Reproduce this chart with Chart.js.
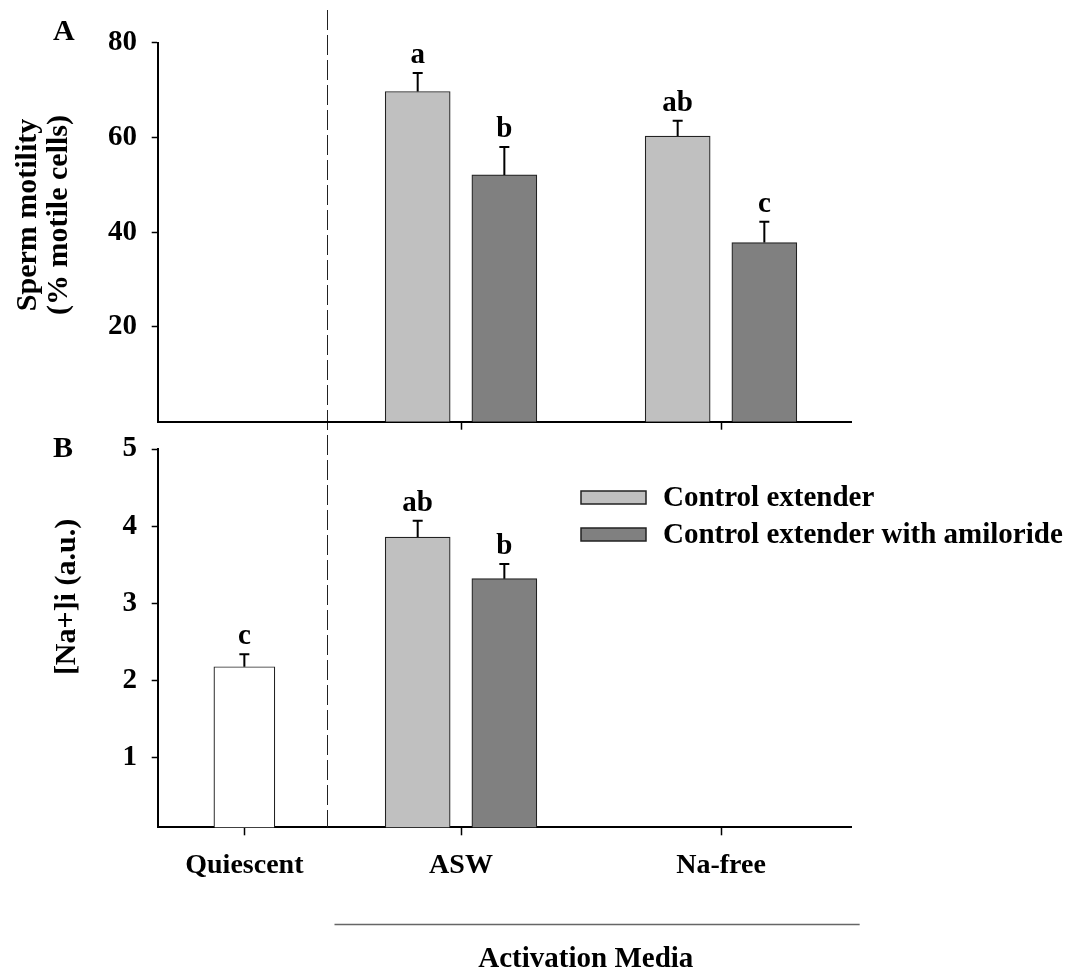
<!DOCTYPE html>
<html>
<head>
<meta charset="utf-8">
<script src="https://cdn.jsdelivr.net/npm/chart.js@4.4.0/dist/chart.umd.min.js"></script>
<style>
body { margin: 0; background: #fff; }
#wrap { position: relative; width: 1088px; height: 974px; }
#wrap canvas { position: absolute; left: 0; top: 0; }
</style>
</head>
<body>
<div id="wrap">
  <canvas id="panelB" width="1088" height="974"></canvas>
  <canvas id="panelA" width="1088" height="974"></canvas>
</div>
<script>
var categories = ['Quiescent', 'ASW', 'Na-free'];
var catPos = [0.5, 1.75, 3.25];
var seriesNames = ['Control extender', 'Control extender with amiloride'];

// panel A: sperm motility (% motile cells)
var motilityControl = [null, 69.7, 60.3];
var motilityControlErr = [null, 3.9, 3.2];
var motilityControlLetters = [null, 'a', 'ab'];
var motilityAmil = [null, 52.1, 37.8];
var motilityAmilErr = [null, 5.9, 4.4];
var motilityAmilLetters = [null, 'b', 'c'];
var motilityTicks = [20, 40, 60, 80];

// panel B: [Na+]i (a.u.)
var naQuiescent = [2.18, null, null];
var naQuiescentErr = [0.16, null, null];
var naQuiescentLetters = ['c', null, null];
var naControl = [null, 3.86, null];
var naControlErr = [null, 0.21, null];
var naControlLetters = [null, 'ab', null];
var naAmil = [null, 3.32, null];
var naAmilErr = [null, 0.19, null];
var naAmilLetters = [null, 'b', null];
var naTicks = [1, 2, 3, 4, 5];

var lightGrey = '#c0c0c0';
var darkGrey = '#808080';
var serif = "'Liberation Serif', 'Times New Roman', serif";

Chart.defaults.font.family = serif;
Chart.defaults.font.weight = 'bold';
Chart.defaults.font.size = 29;
Chart.defaults.color = '#000';

// bars sit left/right of the category position
function points(values, errs, letters, shift) {
    var out = [];
    for (var i = 0; i < values.length; i++) {
        if (values[i] === null) continue;
        out.push({ x: catPos[i] + shift, y: values[i], err: errs[i], letter: letters[i] });
    }
    return out;
}

var errorBars = {
    id: 'errorBars',
    afterDatasetsDraw: function(chart) {
        var ctx = chart.ctx;
        var ys = chart.scales.y;
        chart.data.datasets.forEach(function(ds, i) {
            var meta = chart.getDatasetMeta(i);
            meta.data.forEach(function(bar, j) {
                var pt = ds.data[j];
                var top = ys.getPixelForValue(pt.y + pt.err);
                ctx.save();
                ctx.strokeStyle = '#000';
                ctx.lineWidth = 2;
                ctx.beginPath();
                ctx.moveTo(bar.x, bar.y);
                ctx.lineTo(bar.x, top);
                ctx.moveTo(bar.x - 5, top);
                ctx.lineTo(bar.x + 5, top);
                ctx.stroke();
                ctx.fillStyle = '#000';
                ctx.font = 'bold 29px ' + serif;
                ctx.textAlign = 'center';
                ctx.fillText(pt.letter, bar.x, top - 10);
                ctx.restore();
            });
        });
    }
};

function yTitle(ctx, lines, xs, yc) {
    ctx.save();
    ctx.fillStyle = '#000';
    ctx.font = 'bold 30px ' + serif;
    ctx.textAlign = 'center';
    ctx.textBaseline = 'middle';
    lines.forEach(function(t, k) {
        ctx.save();
        ctx.translate(xs[k], yc);
        ctx.rotate(-Math.PI / 2);
        ctx.fillText(t, 0, 0);
        ctx.restore();
    });
    ctx.restore();
}

function panelLetter(ctx, txt, x, y) {
    ctx.save();
    ctx.fillStyle = '#000';
    ctx.font = 'bold 30px ' + serif;
    ctx.fillText(txt, x, y);
    ctx.restore();
}

var decorA = {
    id: 'decorA',
    afterDraw: function(chart) {
        var ctx = chart.ctx;
        yTitle(ctx, ['Sperm motility', '(% motile cells)'], [28, 59], 215);
        panelLetter(ctx, 'A', 53, 40);
    }
};

var decorB = {
    id: 'decorB',
    afterDraw: function(chart) {
        var ctx = chart.ctx;
        var xs = chart.scales.x;
        var area = chart.chartArea;
        yTitle(ctx, ['[Na+]i (a.u.)'], [67], 597);
        panelLetter(ctx, 'B', 53, 457);

        // divider between quiescent and activated groups
        ctx.save();
        ctx.strokeStyle = '#222';
        ctx.lineWidth = 1;
        ctx.setLineDash([20, 5]);
        var dx = Math.round(xs.getPixelForValue(0.975)) + 0.5;
        ctx.beginPath();
        ctx.moveTo(dx, 10);
        ctx.lineTo(dx, area.bottom);
        ctx.stroke();
        ctx.restore();

        // Activation Media bracket
        ctx.save();
        ctx.strokeStyle = '#666';
        ctx.lineWidth = 1.5;
        ctx.beginPath();
        ctx.moveTo(xs.getPixelForValue(1.02), 924.5);
        ctx.lineTo(xs.getPixelForValue(4.05), 924.5);
        ctx.stroke();
        ctx.fillStyle = '#000';
        ctx.font = 'bold 29px ' + serif;
        ctx.textAlign = 'center';
        ctx.fillText('Activation Media', xs.getPixelForValue(2.47), 967);
        ctx.restore();

        // legend
        ctx.save();
        ctx.font = 'bold 29px ' + serif;
        ctx.textBaseline = 'middle';
        [1, 2].forEach(function(i, k) {
            var ds = chart.data.datasets[i];
            var top = 491 + k * 37;
            ctx.fillStyle = ds.backgroundColor;
            ctx.fillRect(581, top, 65, 13);
            ctx.strokeStyle = '#222';
            ctx.lineWidth = 1.5;
            ctx.strokeRect(581, top, 65, 13);
            ctx.fillStyle = '#000';
            ctx.fillText(ds.label, 663, top + 8);
        });
        ctx.restore();
    }
};

function xScale(labels, height) {
    return {
        type: 'linear', min: 0, max: 4, offset: false,
        afterBuildTicks: function(s) {
            s.ticks = labels.map(function(l) { return { value: catPos[categories.indexOf(l)] }; });
        },
        afterFit: function(s) { s.height = height; },
        ticks: {
            autoSkip: false, maxRotation: 0, padding: 14,
            font: { size: 28, weight: 'bold' },
            callback: function(v, i) { return height > 30 ? labels[i] : ''; }
        },
        grid: { drawOnChartArea: false, offset: false, tickLength: 8, tickColor: '#000', tickWidth: 1.5 },
        border: { color: '#000', width: 2 }
    };
}

function yScale(min, max, tickVals) {
    return {
        min: min, max: max,
        afterBuildTicks: function(s) {
            s.ticks = tickVals.map(function(v) { return { value: v }; });
        },
        afterFit: function(s) { s.width = 157.7; },
        ticks: { padding: 14.7, font: { size: 29, weight: 'bold' } },
        grid: { drawOnChartArea: false, tickLength: 6, tickColor: '#000', tickWidth: 1.5 },
        border: { color: '#000', width: 2 }
    };
}

var barStyle = { borderColor: '#222', borderWidth: 1.2, borderSkipped: 'bottom', grouped: false };

window.onload = function() {
    var ctxA = document.getElementById('panelA').getContext('2d');
    window.chartA = new Chart(ctxA, {
        type: 'bar',
        data: {
            datasets: [
                Object.assign({ label: seriesNames[0], backgroundColor: lightGrey, barThickness: 65,
                    data: points(motilityControl, motilityControlErr, motilityControlLetters, -0.25) }, barStyle),
                Object.assign({ label: seriesNames[1], backgroundColor: darkGrey, barThickness: 65,
                    data: points(motilityAmil, motilityAmilErr, motilityAmilLetters, 0.25) }, barStyle)
            ]
        },
        options: {
            responsive: false,
            animation: false,
            layout: { padding: { top: 42.7, right: 237, bottom: 974 - 421.7 - 20, left: 0 } },
            plugins: { legend: { display: false }, tooltip: { enabled: false } },
            scales: {
                x: xScale(['ASW', 'Na-free'], 20),
                y: yScale(0, 80, motilityTicks)
            }
        },
        plugins: [errorBars, decorA]
    });

    var ctxB = document.getElementById('panelB').getContext('2d');
    window.chartB = new Chart(ctxB, {
        type: 'bar',
        data: {
            datasets: [
                Object.assign({ label: 'Quiescent', backgroundColor: '#ffffff', barThickness: 61,
                    data: points(naQuiescent, naQuiescentErr, naQuiescentLetters, 0) }, barStyle),
                Object.assign({ label: seriesNames[0], backgroundColor: lightGrey, barThickness: 65,
                    data: points(naControl, naControlErr, naControlLetters, -0.25) }, barStyle),
                Object.assign({ label: seriesNames[1], backgroundColor: darkGrey, barThickness: 65,
                    data: points(naAmil, naAmilErr, naAmilLetters, 0.25) }, barStyle)
            ]
        },
        options: {
            responsive: false,
            animation: false,
            layout: { padding: { top: 449, right: 237, bottom: 974 - 827.3 - 60, left: 0 } },
            plugins: { legend: { display: false }, tooltip: { enabled: false } },
            scales: {
                x: xScale(categories, 60),
                y: yScale(0.1, 5, naTicks)
            }
        },
        plugins: [errorBars, decorB]
    });
};
</script>
</body>
</html>
